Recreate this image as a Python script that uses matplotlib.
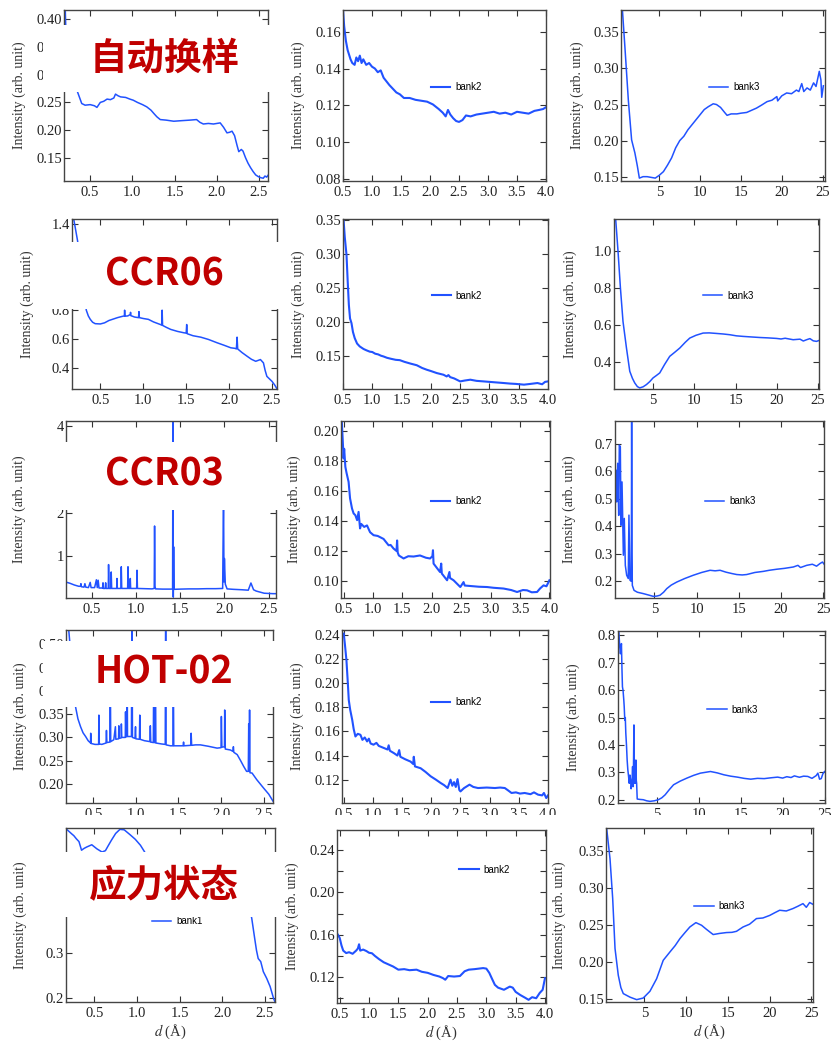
import matplotlib
matplotlib.use('Agg')
import matplotlib.pyplot as plt
import numpy as np
from matplotlib.patches import Rectangle
from matplotlib.ticker import MultipleLocator

plt.rcParams['font.family'] = ['Liberation Serif', 'DejaVu Serif']
plt.rcParams['mathtext.fontset'] = 'stix'

# ---------------- data (d in Å, intensity arb. unit) ----------------
r1_bank1 = [(0.19,0.50),(0.21,0.39),(0.25,0.33),(0.30,0.29),(0.35,0.269),(0.40,0.248),(0.44,0.245),(0.50,0.246),(0.55,0.244),(0.58,0.241),(0.62,0.250),(0.66,0.252),(0.70,0.256),(0.74,0.255),(0.78,0.258),(0.80,0.265),(0.83,0.262),(0.86,0.260),(0.92,0.259),(0.97,0.256),(1.01,0.254),(1.06,0.250),(1.12,0.246),(1.17,0.242),(1.22,0.236),(1.26,0.229),(1.29,0.224),(1.33,0.219),(1.40,0.218),(1.49,0.216),(1.58,0.217),(1.68,0.218),(1.76,0.219),(1.80,0.214),(1.84,0.211),(1.90,0.212),(1.96,0.211),(2.04,0.213),(2.08,0.205),(2.12,0.195),(2.15,0.196),(2.18,0.198),(2.21,0.190),(2.24,0.172),(2.26,0.161),(2.29,0.165),(2.31,0.162),(2.34,0.150),(2.37,0.140),(2.40,0.132),(2.43,0.125),(2.46,0.119),(2.49,0.116),(2.52,0.114),(2.55,0.113),(2.57,0.117),(2.59,0.115),(2.61,0.119)]
r1_bank2 = [(0.50,0.172),(0.52,0.163),(0.55,0.155),(0.58,0.150),(0.60,0.148),(0.63,0.145),(0.66,0.143),(0.70,0.142),(0.73,0.146),(0.76,0.144),(0.79,0.147),(0.82,0.143),(0.85,0.145),(0.90,0.142),(0.95,0.143),(1.00,0.141),(1.05,0.140),(1.10,0.138),(1.15,0.139),(1.20,0.135),(1.25,0.133),(1.30,0.131),(1.36,0.129),(1.42,0.127),(1.48,0.126),(1.55,0.124),(1.65,0.124),(1.75,0.123),(1.85,0.1225),(1.95,0.122),(2.05,0.1205),(2.15,0.118),(2.22,0.116),(2.27,0.114),(2.31,0.1175),(2.35,0.115),(2.40,0.113),(2.45,0.1115),(2.50,0.111),(2.56,0.112),(2.62,0.1145),(2.70,0.114),(2.80,0.115),(2.90,0.1155),(3.00,0.116),(3.10,0.1165),(3.20,0.1155),(3.30,0.1160),(3.40,0.1150),(3.50,0.1165),(3.60,0.1160),(3.70,0.1155),(3.80,0.1170),(3.88,0.1175),(3.95,0.1180),(4.00,0.1190)]
r1_bank3 = [(0.45,0.385),(0.8,0.326),(1.2,0.256),(1.6,0.201),(2.0,0.183),(2.3,0.165),(2.55,0.148),(3.0,0.150),(3.5,0.150),(4.0,0.149),(4.5,0.148),(5.0,0.152),(5.5,0.157),(6.0,0.166),(6.5,0.176),(7.0,0.190),(7.5,0.200),(8.0,0.206),(8.5,0.215),(9.0,0.222),(9.5,0.229),(10.0,0.236),(10.5,0.243),(11.0,0.247),(11.6,0.251),(12.0,0.250),(12.5,0.246),(13.0,0.239),(13.3,0.235),(13.8,0.237),(14.5,0.237),(15.0,0.238),(15.7,0.239),(16.3,0.242),(16.9,0.245),(17.5,0.249),(18.2,0.254),(18.8,0.256),(19.4,0.261),(19.5,0.255),(20.0,0.262),(20.6,0.266),(21.2,0.265),(21.8,0.270),(22.1,0.268),(22.45,0.279),(22.7,0.268),(23.1,0.273),(23.5,0.270),(23.9,0.280),(24.2,0.275),(24.6,0.296),(24.8,0.284),(24.9,0.260),(25.1,0.276)]

r2_bank1 = [(0.17,1.50),(0.19,1.435),(0.235,1.283),(0.28,1.05),(0.31,0.90),(0.337,0.799),(0.36,0.76),(0.383,0.736),(0.41,0.716),(0.44,0.706),(0.50,0.704),(0.55,0.712),(0.60,0.728),(0.65,0.738),(0.70,0.748),(0.75,0.756),(0.78,0.760),(0.783,0.80),(0.787,0.758),(0.82,0.760),(0.85,0.770),(0.852,0.785),(0.855,0.762),(0.90,0.752),(0.945,0.748),(0.95,0.79),(0.955,0.748),(1.00,0.742),(1.06,0.736),(1.12,0.718),(1.20,0.700),(1.215,0.696),(1.22,0.80),(1.225,0.694),(1.27,0.680),(1.32,0.666),(1.40,0.652),(1.47,0.643),(1.50,0.640),(1.506,0.70),(1.512,0.636),(1.58,0.622),(1.67,0.612),(1.76,0.596),(1.86,0.573),(1.94,0.556),(2.02,0.538),(2.07,0.534),(2.085,0.530),(2.093,0.612),(2.10,0.530),(2.15,0.505),(2.21,0.479),(2.26,0.458),(2.31,0.444),(2.365,0.456),(2.40,0.433),(2.42,0.380),(2.44,0.339),(2.50,0.304),(2.53,0.280),(2.56,0.250)]
r2_bank2 = [(0.50,0.37),(0.51,0.35),(0.53,0.325),(0.56,0.2985),(0.58,0.26),(0.60,0.225),(0.62,0.205),(0.645,0.198),(0.67,0.185),(0.70,0.176),(0.74,0.168),(0.786,0.1637),(0.85,0.160),(0.90,0.158),(0.958,0.156),(1.00,0.1555),(1.05,0.153),(1.10,0.152),(1.15,0.150),(1.19,0.149),(1.25,0.147),(1.32,0.1455),(1.40,0.144),(1.47,0.1435),(1.55,0.141),(1.65,0.1385),(1.76,0.136),(1.85,0.132),(1.93,0.1294),(2.00,0.1275),(2.10,0.1245),(2.216,0.122),(2.27,0.1195),(2.30,0.1215),(2.33,0.1185),(2.40,0.1165),(2.50,0.1122),(2.58,0.1135),(2.674,0.1147),(2.78,0.1130),(2.90,0.1122),(3.00,0.1115),(3.10,0.1108),(3.245,0.1098),(3.35,0.1090),(3.45,0.1085),(3.59,0.1074),(3.70,0.1085),(3.82,0.1098),(3.90,0.1080),(3.95,0.1115),(4.00,0.1122)]
r2_bank3 = [(0.45,1.18),(0.48,1.168),(0.76,0.996),(1.05,0.798),(1.36,0.618),(1.78,0.474),(2.18,0.348),(2.5,0.31),(2.78,0.285),(3.1,0.265),(3.39,0.258),(3.8,0.264),(4.2,0.276),(4.6,0.292),(5.0,0.312),(5.4,0.325),(5.81,0.339),(6.4,0.385),(7.02,0.429),(7.6,0.450),(8.24,0.474),(8.9,0.505),(9.45,0.528),(10.2,0.543),(11.06,0.555),(11.8,0.556),(12.68,0.553),(13.5,0.550),(14.3,0.546),(15.1,0.540),(15.9,0.537),(16.9,0.534),(17.93,0.531),(18.9,0.529),(19.95,0.526),(20.5,0.523),(21.0,0.527),(21.97,0.519),(22.8,0.522),(23.2,0.512),(23.6,0.519),(24.0,0.525),(24.4,0.513),(24.8,0.51),(25.1,0.515)]

r3_bank1 = [(0.20,0.40),(0.25,0.37),(0.30,0.33),(0.35,0.30),(0.37,0.30),(0.375,0.36),(0.38,0.29),(0.41,0.28),(0.42,0.36),(0.43,0.28),(0.46,0.27),(0.48,0.39),(0.49,0.27),(0.53,0.27),(0.55,0.45),(0.56,0.27),(0.57,0.44),(0.58,0.26),(0.62,0.26),(0.625,0.38),(0.63,0.25),(0.65,0.25),(0.655,0.38),(0.66,0.25),(0.685,0.25),(0.688,0.80),(0.693,0.25),(0.714,0.25),(0.718,0.63),(0.723,0.25),(0.780,0.25),(0.783,0.48),(0.787,0.25),(0.828,0.25),(0.832,0.75),(0.837,0.25),(0.904,0.25),(0.908,0.75),(0.913,0.25),(0.930,0.25),(0.934,0.48),(0.938,0.25),(1.006,0.25),(1.010,0.67),(1.015,0.25),(1.10,0.245),(1.18,0.24),(1.205,0.25),(1.209,1.69),(1.214,0.30),(1.22,0.24),(1.30,0.235),(1.40,0.235),(1.413,0.24),(1.417,4.3),(1.421,0.05),(1.425,1.21),(1.43,0.23),(1.50,0.235),(1.60,0.24),(1.70,0.24),(1.80,0.245),(1.90,0.245),(1.98,0.25),(1.99,2.5),(1.995,0.40),(2.00,0.94),(2.01,0.35),(2.03,0.24),(2.10,0.23),(2.20,0.22),(2.27,0.21),(2.30,0.376),(2.33,0.22),(2.36,0.19),(2.45,0.14),(2.55,0.13),(2.59,0.13)]
r3_bank2 = [(0.47,0.206),(0.49,0.19),(0.50,0.1816),(0.51,0.188),(0.53,0.176),(0.55,0.172),(0.585,0.166),(0.61,0.155),(0.643,0.1483),(0.67,0.145),(0.70,0.1438),(0.73,0.1405),(0.755,0.146),(0.78,0.135),(0.80,0.138),(0.85,0.136),(0.898,0.137),(0.95,0.1325),(1.01,0.1305),(1.08,0.130),(1.18,0.128),(1.22,0.126),(1.265,0.1238),(1.30,0.124),(1.35,0.1216),(1.40,0.120),(1.41,0.127),(1.42,0.119),(1.44,0.117),(1.52,0.115),(1.60,0.1165),(1.69,0.1163),(1.80,0.117),(1.90,0.1155),(1.97,0.115),(2.01,0.1165),(2.02,0.1205),(2.03,0.1116),(2.10,0.108),(2.14,0.106),(2.16,0.1116),(2.17,0.105),(2.26,0.1005),(2.30,0.106),(2.31,0.102),(2.37,0.1005),(2.485,0.096),(2.54,0.0993),(2.56,0.097),(2.65,0.0967),(2.80,0.0962),(2.94,0.096),(3.05,0.0955),(3.22,0.095),(3.35,0.094),(3.45,0.0927),(3.55,0.094),(3.62,0.0938),(3.70,0.0925),(3.79,0.0927),(3.84,0.0950),(3.90,0.0971),(3.95,0.0965),(4.00,0.1005)]
r3_bank3 = [(0.35,0.526),(0.47,0.605),(0.55,0.489),(0.67,0.63),(0.79,0.44),(0.86,0.696),(0.98,0.69),(1.06,0.404),(1.18,0.562),(1.34,0.295),(1.45,0.429),(1.57,0.258),(1.73,0.222),(1.92,0.21),(2.0,0.441),(2.12,0.204),(2.28,0.20),(2.32,0.80),(2.36,0.30),(2.40,0.185),(2.6,0.167),(3.0,0.160),(3.7,0.155),(4.3,0.150),(4.88,0.145),(5.3,0.146),(5.67,0.149),(6.1,0.160),(6.47,0.173),(7.0,0.186),(7.65,0.197),(8.6,0.210),(9.62,0.222),(10.6,0.232),(11.6,0.24),(12.2,0.238),(12.78,0.24),(13.5,0.233),(14.2,0.228),(14.75,0.2245),(15.4,0.223),(15.93,0.2245),(16.9,0.232),(17.9,0.236),(18.6,0.240),(19.48,0.2438),(20.4,0.247),(21.45,0.252),(22.0,0.258),(22.3,0.250),(23.03,0.258),(23.7,0.262),(24.2,0.255),(24.6,0.2645),(24.9,0.27),(25.1,0.262)]

r4_bank1 = [(0.18,0.60),(0.25,0.45),(0.293,0.365),(0.32,0.34),(0.351,0.323),(0.38,0.31),(0.41,0.302),(0.44,0.293),(0.468,0.288),(0.470,0.309),(0.475,0.287),(0.52,0.285),(0.563,0.285),(0.566,0.348),(0.571,0.286),(0.60,0.285),(0.65,0.288),(0.655,0.315),(0.66,0.289),(0.695,0.290),(0.70,0.45),(0.705,0.291),(0.741,0.295),(0.76,0.323),(0.765,0.296),(0.797,0.297),(0.80,0.325),(0.805,0.298),(0.827,0.299),(0.83,0.329),(0.835,0.300),(0.876,0.300),(0.879,0.355),(0.884,0.301),(0.895,0.302),(0.898,0.45),(0.902,0.302),(0.948,0.302),(0.955,0.60),(0.960,0.30),(0.99,0.298),(0.996,0.323),(1.00,0.297),(1.042,0.296),(1.046,0.348),(1.05,0.296),(1.10,0.293),(1.165,0.291),(1.17,0.325),(1.175,0.290),(1.205,0.289),(1.21,0.45),(1.215,0.289),(1.225,0.289),(1.23,0.45),(1.235,0.288),(1.30,0.286),(1.345,0.285),(1.350,0.60),(1.355,0.284),(1.406,0.282),(1.435,0.282),(1.44,0.45),(1.445,0.282),(1.50,0.282),(1.555,0.282),(1.56,0.29),(1.565,0.282),(1.645,0.283),(1.649,0.309),(1.655,0.283),(1.70,0.284),(1.758,0.284),(1.85,0.281),(1.954,0.277),(2.00,0.278),(2.004,0.345),(2.01,0.279),(2.04,0.280),(2.043,0.359),(2.05,0.275),(2.11,0.273),(2.14,0.270),(2.145,0.28),(2.15,0.268),(2.19,0.263),(2.23,0.25),(2.266,0.2376),(2.30,0.227),(2.32,0.227),(2.325,0.329),(2.33,0.228),(2.335,0.359),(2.34,0.224),(2.364,0.2234),(2.42,0.209),(2.50,0.191),(2.56,0.178),(2.61,0.163)]
r4_bank2 = [(0.50,0.241),(0.52,0.232),(0.546,0.219),(0.57,0.200),(0.586,0.186),(0.61,0.178),(0.645,0.1696),(0.67,0.162),(0.70,0.1558),(0.74,0.158),(0.786,0.1572),(0.82,0.153),(0.86,0.155),(0.90,0.1517),(0.93,0.154),(0.96,0.150),(1.01,0.149),(1.06,0.1505),(1.10,0.148),(1.19,0.1462),(1.25,0.145),(1.27,0.1485),(1.29,0.144),(1.36,0.142),(1.42,0.140),(1.45,0.1445),(1.47,0.139),(1.55,0.137),(1.645,0.135),(1.69,0.133),(1.70,0.139),(1.72,0.131),(1.817,0.1295),(1.90,0.1265),(1.99,0.1228),(2.08,0.120),(2.16,0.1173),(2.22,0.1155),(2.28,0.1131),(2.33,0.120),(2.36,0.115),(2.39,0.118),(2.42,0.114),(2.45,0.1205),(2.48,0.1115),(2.50,0.1103),(2.56,0.113),(2.655,0.1159),(2.72,0.114),(2.80,0.1131),(2.95,0.1135),(3.09,0.1131),(3.18,0.1135),(3.26,0.1131),(3.32,0.111),(3.375,0.109),(3.45,0.1095),(3.52,0.1085),(3.60,0.109),(3.70,0.108),(3.76,0.1095),(3.83,0.1076),(3.90,0.107),(3.93,0.109),(3.97,0.1048),(4.00,0.107)]
r4_bank3 = [(0.45,0.83),(0.5,0.806),(0.58,0.76),(0.67,0.733),(0.79,0.77),(0.85,0.68),(0.91,0.612),(0.98,0.60),(1.07,0.564),(1.12,0.54),(1.19,0.49),(1.25,0.50),(1.31,0.443),(1.39,0.40),(1.47,0.345),(1.55,0.31),(1.64,0.285),(1.72,0.26),(1.80,0.29),(1.88,0.273),(1.94,0.24),(2.0,0.248),(2.06,0.27),(2.12,0.321),(2.16,0.25),(2.2,0.248),(2.28,0.473),(2.33,0.26),(2.39,0.285),(2.45,0.26),(2.51,0.345),(2.56,0.27),(2.6,0.26),(2.67,0.2025),(3.0,0.201),(3.39,0.20),(3.8,0.196),(4.19,0.194),(4.7,0.196),(5.19,0.20),(5.6,0.207),(6.0,0.218),(6.5,0.237),(7.0,0.2545),(7.8,0.268),(8.6,0.279),(9.4,0.289),(10.2,0.297),(10.8,0.300),(11.4,0.303),(12.2,0.298),(13.0,0.291),(13.8,0.286),(14.6,0.2825),(15.4,0.278),(16.2,0.275),(17.0,0.278),(17.8,0.277),(18.6,0.280),(19.4,0.2825),(20.0,0.279),(20.5,0.284),(21.0,0.281),(21.4,0.287),(22.0,0.282),(22.5,0.286),(23.0,0.285),(23.5,0.278),(24.0,0.288),(24.2,0.297),(24.4,0.275),(24.6,0.277),(24.8,0.295),(25.0,0.303)]

r5_bank1 = [(0.17,0.578),(0.176,0.572),(0.20,0.568),(0.235,0.562),(0.26,0.558),(0.29,0.551),(0.32,0.545),(0.35,0.526),(0.38,0.530),(0.41,0.533),(0.47,0.538),(0.53,0.529),(0.59,0.522),(0.63,0.525),(0.66,0.535),(0.70,0.548),(0.75,0.563),(0.80,0.572),(0.85,0.571),(0.92,0.560),(0.98,0.550),(1.04,0.537),(1.09,0.522),(1.15,0.50),(1.30,0.47),(1.60,0.455),(2.00,0.45),(2.20,0.44),(2.30,0.42),(2.345,0.375),(2.38,0.33),(2.40,0.305),(2.42,0.287),(2.45,0.28),(2.48,0.258),(2.52,0.243),(2.56,0.225),(2.60,0.199),(2.62,0.19)]
r5_bank2 = [(0.47,0.160),(0.50,0.157),(0.53,0.150),(0.56,0.145),(0.61,0.1427),(0.66,0.1435),(0.72,0.142),(0.78,0.145),(0.81,0.147),(0.83,0.151),(0.85,0.145),(0.90,0.146),(0.955,0.1446),(1.00,0.143),(1.05,0.1425),(1.10,0.140),(1.17,0.137),(1.25,0.134),(1.33,0.132),(1.41,0.130),(1.50,0.127),(1.60,0.1275),(1.69,0.1265),(1.81,0.127),(1.90,0.125),(2.00,0.124),(2.10,0.122),(2.20,0.1205),(2.26,0.119),(2.30,0.1175),(2.35,0.121),(2.45,0.1205),(2.55,0.121),(2.63,0.1255),(2.70,0.127),(2.80,0.1275),(2.945,0.1285),(3.00,0.128),(3.05,0.124),(3.10,0.118),(3.145,0.1127),(3.20,0.110),(3.30,0.108),(3.40,0.111),(3.45,0.110),(3.50,0.106),(3.58,0.103),(3.66,0.1005),(3.72,0.0985),(3.78,0.101),(3.85,0.100),(3.91,0.105),(3.96,0.108),(4.00,0.119)]
r5_bank3 = [(0.42,0.395),(0.5,0.381),(0.9,0.340),(1.22,0.286),(1.5,0.218),(1.89,0.1817),(2.2,0.165),(2.49,0.1568),(3.29,0.152),(4.09,0.1486),(4.88,0.1508),(5.68,0.160),(6.48,0.177),(7.27,0.202),(8.07,0.2133),(8.7,0.222),(9.27,0.2315),(9.9,0.240),(10.46,0.2473),(11.18,0.2532),(11.86,0.2496),(12.4,0.2445),(12.85,0.2405),(13.25,0.237),(14.0,0.2385),(14.84,0.2397),(15.5,0.240),(16.04,0.2414),(16.83,0.2473),(17.6,0.251),(18.43,0.2587),(19.2,0.2595),(20.02,0.263),(20.6,0.2665),(21.21,0.27),(22.0,0.269),(22.8,0.2723),(23.4,0.2755),(24.0,0.279),(24.4,0.274),(24.8,0.2805),(25.2,0.278)]

sample_labels = ['自动换样', 'CCR06', 'CCR03', 'HOT-02', '应力状态']
bank_names = ['bank1', 'bank2', 'bank3']

# ---------------- layout ----------------
W, H = 836, 1043
fig = plt.figure(figsize=(W / 100, H / 100), dpi=100)
LINE = '#2152ff'

def fbox(x0, y0, x1, y1):
    return [x0 / W, 1 - y1 / H, (x1 - x0) / W, (y1 - y0) / H]

# (data, pixel box, xlim, ylim, ymajor, yminor, xmajor, legend anchor, bank idx, ylabel centre px)
panels = [
    (r1_bank1, (64, 10, 268, 181), (0.19, 2.606), (0.108, 0.417), 0.05, None, 0.5, None, 0, 19),
    (r1_bank2, (343, 10, 546, 181), (0.5, 4.0), (0.0789, 0.1718), 0.02, None, 0.5, (0.432, 0.55), 1, 298),
    (r1_bank3, (621, 10, 825, 181), (0.3, 25.3), (0.144, 0.381), 0.05, None, 5, (0.431, 0.55), 2, 577),
    (r2_bank1, (72, 219, 277, 389), (0.17, 2.558), (0.251, 1.435), 0.2, None, 0.5, None, 0, 27),
    (r2_bank2, (343, 219, 548, 389), (0.5, 4.0), (0.101, 0.3515), 0.05, None, 0.5, (0.432, 0.55), 1, 298),
    (r2_bank3, (614, 219, 819, 389), (0.27, 25.1), (0.252, 1.173), 0.2, None, 5, (0.434, 0.55), 2, 570),
    (r3_bank1, (66, 421, 276, 598), (0.206, 2.584), (0.03, 4.11), 1, None, 0.5, None, 0, 19),
    (r3_bank2, (341, 421, 550, 598), (0.456, 4.01), (0.0887, 0.2065), 0.02, None, 0.5, (0.43, 0.547), 1, 294),
    (r3_bank3, (615, 421, 824, 598), (0.35, 25.08), (0.139, 0.784), 0.1, None, 5, (0.43, 0.547), 2, 569),
    (r4_bank1, (66, 630, 273, 803), (0.18, 2.61), (0.159, 0.531), 0.05, None, 0.5, None, 0, 20),
    (r4_bank2, (342, 630, 548, 803), (0.47, 4.0), (0.1007, 0.244), 0.02, None, 0.5, (0.431, 0.583), 1, 297),
    (r4_bank3, (618, 631, 825, 803), (0.38, 25.05), (0.188, 0.816), 0.1, None, 5, (0.432, 0.542), 2, 573),
    (r5_bank1, (66, 828, 275, 1002), (0.168, 2.617), (0.191, 0.575), 0.1, None, 0.5, (0.41, 0.464), 0, 20),
    (r5_bank2, (337, 830, 546, 1003), (0.454, 4.017), (0.0955, 0.259), 0.04, 0.02, 0.5, (0.585, 0.77), 1, 292),
    (r5_bank3, (606, 828, 813, 1002), (0.42, 25.2), (0.1454, 0.3817), 0.05, None, 5, (0.426, 0.552), 2, 559),
]

for i, (data, box, xl, yl, ymaj, ymin, xmaj, leg, bank, ylab_px) in enumerate(panels):
    ax = fig.add_axes(fbox(*box))
    arr = np.array(data)
    lw = 1.5 if bank == 1 else 1.1
    ln, = ax.plot(arr[:, 0], arr[:, 1], color=LINE, lw=lw)
    ax.set_xlim(*xl)
    ax.set_ylim(*yl)
    ax.yaxis.set_major_locator(MultipleLocator(ymaj))
    ax.xaxis.set_major_locator(MultipleLocator(xmaj))
    if ymin:
        ax.yaxis.set_minor_locator(MultipleLocator(ymin))
        ax.tick_params(axis='y', which='minor', direction='in', left=True, right=True,
                       length=4, width=0.8, color='#333333')
    ax.tick_params(which='major', direction='in', top=True, right=True, length=4,
                   width=0.8, labelsize=10.5, color='#333333', labelcolor='#222222')
    ax.tick_params(axis='x', pad=3.5)
    ax.tick_params(axis='y', pad=1.5)
    for sp in ax.spines.values():
        sp.set_color('#444444')
        sp.set_linewidth(1.0)
    ax.set_ylabel('Intensity (arb. unit)', fontsize=10, color='#333333')
    ax.yaxis.set_label_coords((ylab_px + 7 - box[0]) / (box[2] - box[0]), 0.5)
    if i >= 12:
        ax.set_xlabel(r'$d$ (Å)', fontsize=10.5, color='#333333', labelpad=2)
    if leg is not None:
        ax.legend([ln], [bank_names[bank]], loc='center left', bbox_to_anchor=leg,
                  frameon=False, prop={'family': 'Liberation Sans', 'size': 7},
                  handlelength=2.0, handletextpad=0.5, borderpad=0, borderaxespad=0)

# white cover boxes with sample names
cover_boxes = [(43, 25, 280, 92), (45, 242, 282, 309), (45, 442, 282, 510),
               (43, 641, 280, 707), (43, 852, 282, 917)]
label_pos = [(165, 58), (164, 274), (164, 474), (164, 672), (164, 886)]
for (x0, y0, x1, y1), (tx, ty), s in zip(cover_boxes, label_pos, sample_labels):
    b = fbox(x0, y0, x1, y1)
    fig.add_artist(Rectangle((b[0], b[1]), b[2], b[3], transform=fig.transFigure,
                             facecolor='white', edgecolor='none', zorder=5))
    fig.text(tx / W, 1 - ty / H, s, ha='center', va='center', fontsize=27,
             fontweight='bold', color='#C00000', zorder=6,
             family=['Noto Sans CJK SC', 'DejaVu Sans'])

# strip that cuts the 4th row x tick labels
b = fbox(0, 815, W, 826)
fig.add_artist(Rectangle((b[0], b[1]), b[2], b[3], transform=fig.transFigure,
                         facecolor='white', edgecolor='none', zorder=5))

fig.savefig('out.png', dpi=100, facecolor='white')
